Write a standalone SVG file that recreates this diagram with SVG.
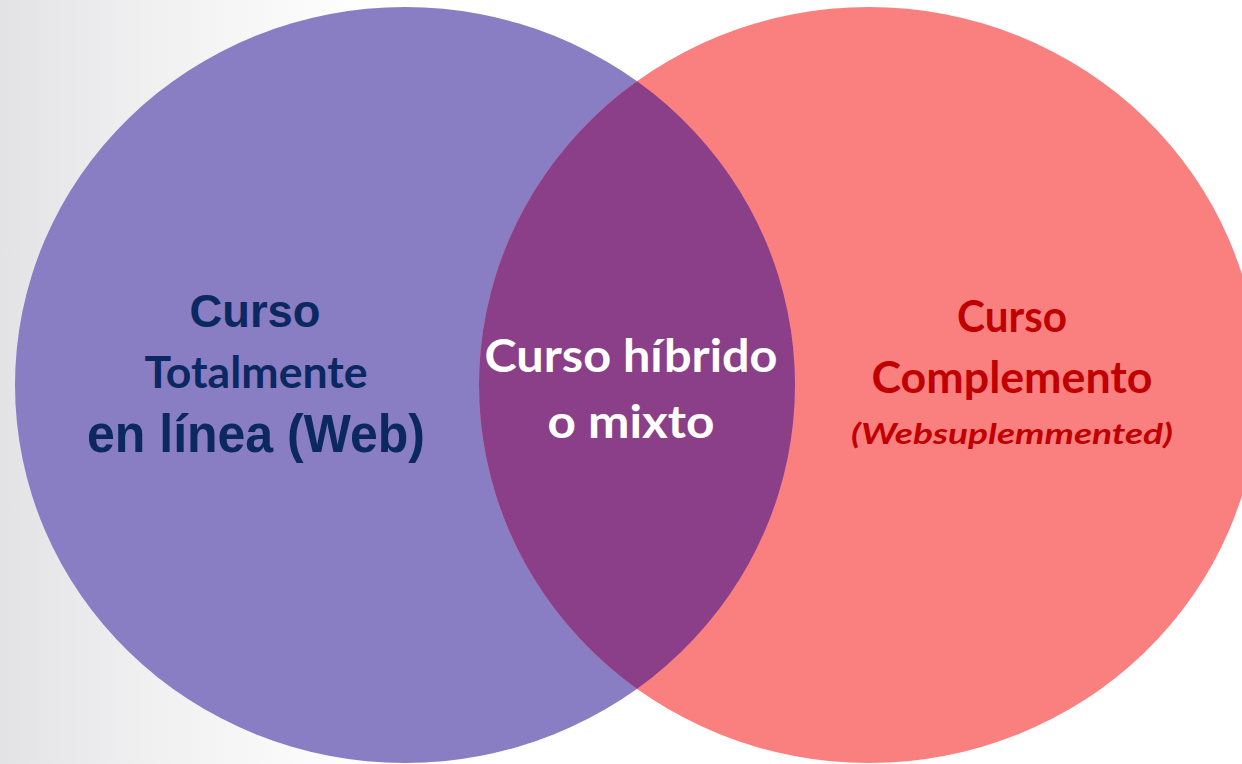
<svg xmlns="http://www.w3.org/2000/svg" width="1242" height="764" viewBox="0 0 1242 764">
<defs>
<linearGradient id="bg" x1="0" y1="0" x2="1" y2="0">
<stop offset="0" stop-color="#e3e3e6"/>
<stop offset="0.12" stop-color="#f0f0f1"/>
<stop offset="0.3" stop-color="#ffffff"/>
<stop offset="1" stop-color="#ffffff"/>
</linearGradient>
<clipPath id="clipL"><ellipse cx="405" cy="385" rx="390" ry="378"/></clipPath>
</defs>
<style>
.gothic{font-family:"Liberation Sans",Arial,sans-serif;font-weight:bold;fill:#0c2860;text-anchor:middle}
.cal{font-family:Lato,"Open Sans",sans-serif;font-weight:bold;text-anchor:middle}
.navy{fill:#0c2860}
.white{fill:#ffffff}
.red{fill:#c00000}
</style>
<rect width="1242" height="764" fill="url(#bg)"/>
<g id="online">
<ellipse cx="405" cy="385" rx="390" ry="378" fill="#897dc4"/>
</g>
<g id="complemento">
<ellipse cx="869" cy="385" rx="390" ry="378" fill="#fa8080"/>
</g>
<g id="hibrido">
<ellipse cx="869" cy="385" rx="390" ry="378" fill="#8a3f88" clip-path="url(#clipL)"/>
</g>
<g id="connectors"></g>
<g id="labels-online">
<text class="gothic" x="255" y="327" font-size="47" textLength="131" lengthAdjust="spacingAndGlyphs">Curso</text>
<text class="cal navy" x="256" y="388" font-size="43" textLength="223" lengthAdjust="spacingAndGlyphs">Totalmente</text>
<text class="gothic" x="256" y="452" font-size="53" textLength="338" lengthAdjust="spacingAndGlyphs">en línea (Web)</text>
</g>
<g id="labels-hibrido">
<text class="cal white" x="631" y="372" font-size="46" textLength="293" lengthAdjust="spacingAndGlyphs">Curso híbrido</text>
<text class="cal white" x="631" y="438" font-size="46" textLength="167" lengthAdjust="spacingAndGlyphs">o mixto</text>
</g>
<g id="labels-complemento">
<text class="cal red" x="1012" y="332" font-size="43" textLength="110" lengthAdjust="spacingAndGlyphs">Curso</text>
<text class="cal red" x="1012" y="393" font-size="43" textLength="281" lengthAdjust="spacingAndGlyphs">Complemento</text>
<text class="cal red" x="1012" y="444" font-size="28" font-style="italic" textLength="322" lengthAdjust="spacingAndGlyphs">(Websuplemmented)</text>
</g>
</svg>
